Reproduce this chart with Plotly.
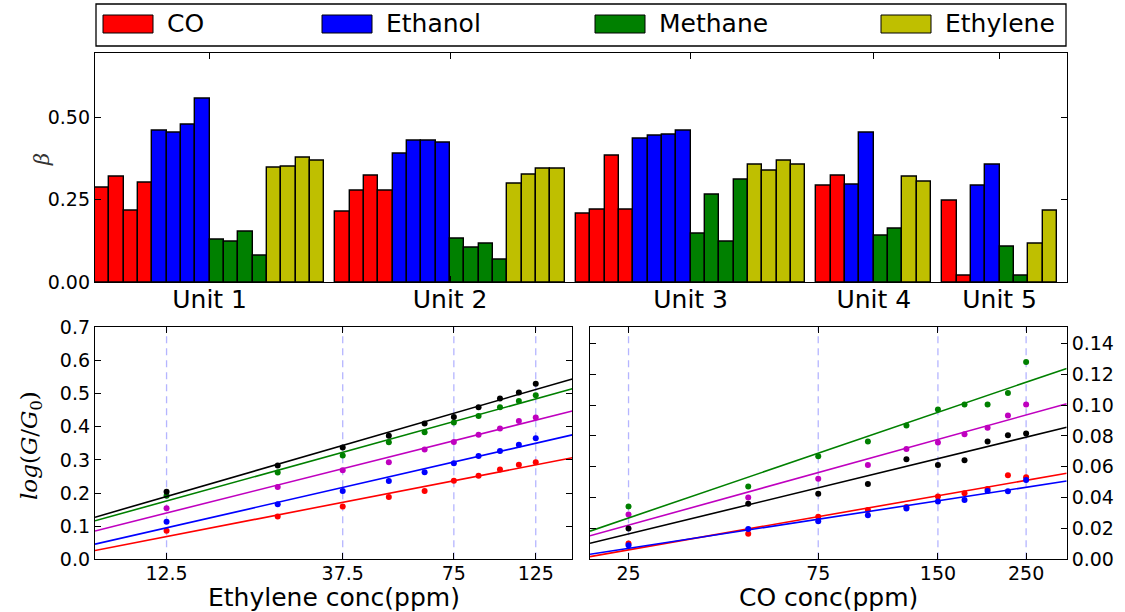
import numpy as np
import plotly.graph_objects as go

W, H = 1125, 612

# ---------------- data ----------------
units = ["Unit 1", "Unit 2", "Unit 3", "Unit 4", "Unit 5"]
gases = ["CO", "Ethanol", "Methane", "Ethylene"]
gas_colors = ["#ff0000", "#0000ff", "#008000", "#bfbf00"]

# beta per gas, one list of sensor values per unit
beta_co = [[0.286, 0.319, 0.218, 0.301], [0.214, 0.278, 0.322, 0.278],
           [0.207, 0.221, 0.383, 0.221], [0.293, 0.322], [0.247, 0.021]]
beta_ethanol = [[0.459, 0.455, 0.477, 0.556], [0.391, 0.429, 0.429, 0.424],
                [0.436, 0.443, 0.447, 0.461], [0.296, 0.452], [0.293, 0.358]]
beta_methane = [[0.130, 0.124, 0.153, 0.082], [0.133, 0.104, 0.116, 0.068],
                [0.146, 0.267, 0.124, 0.312], [0.141, 0.162], [0.108, 0.021]]
beta_ethylene = [[0.346, 0.349, 0.379, 0.368], [0.300, 0.327, 0.345, 0.345],
                 [0.356, 0.337, 0.368, 0.356], [0.319, 0.304], [0.117, 0.218]]

# log(G/G0) response vs ethylene concentration
ethylene_ppm = [12.5, 25, 37.5, 50, 62.5, 75, 87.5, 100, 112.5, 125]
eth_red = [0.086, 0.129, 0.159, 0.188, 0.206, 0.237, 0.252, 0.271, 0.285, 0.293]
eth_blue = [0.113, 0.166, 0.206, 0.236, 0.263, 0.290, 0.312, 0.327, 0.346, 0.365]
eth_magenta = [0.154, 0.218, 0.269, 0.293, 0.331, 0.354, 0.376, 0.395, 0.417, 0.428]
eth_green = [0.192, 0.262, 0.313, 0.353, 0.383, 0.413, 0.432, 0.459, 0.478, 0.495]
eth_black = [0.204, 0.283, 0.337, 0.373, 0.410, 0.429, 0.459, 0.485, 0.503, 0.530]
ethylene_guides = [12.5, 37.5, 75, 125]

# log(G/G0) response vs CO concentration
co_ppm = [25, 50, 75, 100, 125, 150, 175, 200, 225, 250]
co_red = [0.0102, 0.0165, 0.0276, 0.0320, 0.0340, 0.0408, 0.0428, 0.0456, 0.0545, 0.0532]
co_blue = [0.0091, 0.0197, 0.0247, 0.0286, 0.0330, 0.0375, 0.0384, 0.0443, 0.0441, 0.0514]
co_magenta = [0.0291, 0.0401, 0.0523, 0.0612, 0.0716, 0.0757, 0.0812, 0.0853, 0.0933, 0.1005]
co_green = [0.0343, 0.0473, 0.0668, 0.0764, 0.0868, 0.0972, 0.1005, 0.1005, 0.1079, 0.1280]
co_black = [0.0200, 0.0360, 0.0425, 0.0488, 0.0649, 0.0612, 0.0642, 0.0764, 0.0805, 0.0816]
co_guides = [25, 75, 150, 250]

sensor_colors = ["#ff0000", "#0000ff", "#bf00bf", "#008000", "#000000"]

# ---------------- helpers ----------------
FONT = "DejaVu Sans"
MATH = "DejaVu Serif"


def px_x(x):
    return x / W


def px_y(y):
    return 1 - y / H


fig = go.Figure()

# ---------------- top: grouped bars ----------------
gap = 0.78
gas_beta = [beta_co, beta_ethanol, beta_methane, beta_ethylene]
bar_x = [[] for _ in gases]
bar_y = [[] for _ in gases]
unit_centers = []
cursor = 0.0
for u in range(len(units)):
    start = cursor
    for g, vals in enumerate(gas_beta):
        for v in vals[u]:
            bar_x[g].append(cursor + 0.5)
            bar_y[g].append(v)
            cursor += 1
    unit_centers.append((start + cursor) / 2)
    cursor += gap

for g, name in enumerate(gases):
    fig.add_trace(go.Bar(
        x=bar_x[g], y=bar_y[g], width=1.0, name=name,
        marker=dict(color=gas_colors[g], line=dict(color="black", width=1.4)),
        xaxis="x", yaxis="y", showlegend=False,
    ))

# ---------------- bottom: sensor responses with log fits ----------------
def add_panel(xs, series, xr, xa, ya):
    lx = np.log10(np.array(xs, dtype=float))
    ends = np.array(xr, dtype=float)
    for ys, col in zip(series, sensor_colors):
        k, b = np.polyfit(lx, np.array(ys), 1)
        fig.add_trace(go.Scatter(
            x=10 ** ends, y=k * ends + b, mode="lines",
            line=dict(color=col, width=1.6), xaxis=xa, yaxis=ya,
            showlegend=False, hoverinfo="skip"))
        fig.add_trace(go.Scatter(
            x=xs, y=ys, mode="markers",
            marker=dict(color=col, size=6), xaxis=xa, yaxis=ya,
            showlegend=False))


eth_range = [np.log10(8.0), np.log10(157.0)]
co_range = [np.log10(20.0), 2.5]
add_panel(ethylene_ppm, [eth_red, eth_blue, eth_magenta, eth_green, eth_black],
          eth_range, "x2", "y2")
add_panel(co_ppm, [co_red, co_blue, co_magenta, co_green, co_black],
          co_range, "x3", "y3")

shapes = []
for v in ethylene_guides:
    shapes.append(dict(type="line", xref="x2", yref="y2 domain", x0=v, x1=v,
                       y0=0, y1=1, layer="below",
                       line=dict(color="rgba(90,90,255,0.45)", width=1.3, dash="7px,5px")))
for v in co_guides:
    shapes.append(dict(type="line", xref="x3", yref="y3 domain", x0=v, x1=v,
                       y0=0, y1=1, layer="below",
                       line=dict(color="rgba(90,90,255,0.45)", width=1.3, dash="7px,5px")))

# ---------------- legend box ----------------
shapes.append(dict(type="rect", xref="paper", yref="paper",
                   x0=px_x(96), x1=px_x(1066), y0=px_y(46), y1=px_y(4),
                   line=dict(color="black", width=1.3), fillcolor="white"))
legend_patch_x = [103, 322, 595, 881]
annotations = []
for name, col, lx in zip(gases, gas_colors, legend_patch_x):
    shapes.append(dict(type="rect", xref="paper", yref="paper",
                       x0=px_x(lx), x1=px_x(lx + 50), y0=px_y(33), y1=px_y(15),
                       line=dict(color="black", width=1), fillcolor=col))
    annotations.append(dict(text=name, xref="paper", yref="paper",
                            x=px_x(lx + 62), y=px_y(24), xanchor="left", yanchor="middle",
                            showarrow=False, font=dict(family=FONT, size=25, color="black")))

# axis titles
annotations += [
    dict(text="<i>β</i>", xref="paper", yref="paper", x=px_x(42), y=px_y(160),
         xanchor="center", yanchor="middle", showarrow=False, textangle=-90,
         font=dict(family=MATH, size=21, color="#333333")),
    dict(text="<i>log</i>(<i>G</i>/<i>G</i><sub>0</sub>)", xref="paper", yref="paper",
         x=px_x(31), y=px_y(446), xanchor="center", yanchor="middle",
         showarrow=False, textangle=-90,
         font=dict(family=MATH, size=23, color="black")),
    dict(text="Ethylene conc(ppm)", xref="paper", yref="paper", x=px_x(334), y=px_y(597),
         xanchor="center", yanchor="middle", showarrow=False,
         font=dict(family=FONT, size=25, color="black")),
    dict(text="CO conc(ppm)", xref="paper", yref="paper", x=px_x(828), y=px_y(597),
         xanchor="center", yanchor="middle", showarrow=False,
         font=dict(family=FONT, size=25, color="black")),
]

axis_common = dict(showline=True, linecolor="black", linewidth=1.3, mirror="allticks",
                   ticks="inside", ticklen=6, tickcolor="black", showgrid=False,
                   zeroline=False, automargin=False,
                   tickfont=dict(family=FONT, size=19, color="black"))

total_width = cursor - gap
fig.update_layout(
    width=W, height=H, margin=dict(l=0, r=0, t=0, b=0, autoexpand=False),
    paper_bgcolor="white", plot_bgcolor="white", bargap=0,
    xaxis=dict(domain=[px_x(95), px_x(1066.7)], range=[0, total_width + 0.68],
               tickvals=unit_centers, ticktext=units, anchor="y",
               ticklabelstandoff=-5,
               **{**axis_common, "tickfont": dict(family=FONT, size=25, color="black")}),
    yaxis=dict(domain=[px_y(282.3), px_y(52.7)], range=[0, 0.696],
               tickvals=[0, 0.25, 0.5], tickformat=".2f", anchor="x", **axis_common),
    xaxis2=dict(domain=[px_x(95), px_x(572.3)], type="log", range=eth_range,
                tickvals=ethylene_guides, ticktext=["12.5", "37.5", "75", "125"],
                anchor="y2", ticklabelstandoff=-3, **axis_common),
    yaxis2=dict(domain=[px_y(559.3), px_y(327.3)], range=[0, 0.7], dtick=0.1,
                tickformat=".1f", anchor="x2", **axis_common),
    xaxis3=dict(domain=[px_x(590), px_x(1066.7)], type="log", range=co_range,
                tickvals=co_guides, ticktext=["25", "75", "150", "250"],
                anchor="y3", ticklabelstandoff=-3, **axis_common),
    yaxis3=dict(domain=[px_y(559.3), px_y(327.3)], range=[0, 0.1505], side="right",
                tickvals=[0, 0.02, 0.04, 0.06, 0.08, 0.10, 0.12, 0.14], tickformat=".2f",
                anchor="x3", **axis_common),
    shapes=shapes, annotations=annotations, showlegend=False,
)

fig.write_html("out.html")
